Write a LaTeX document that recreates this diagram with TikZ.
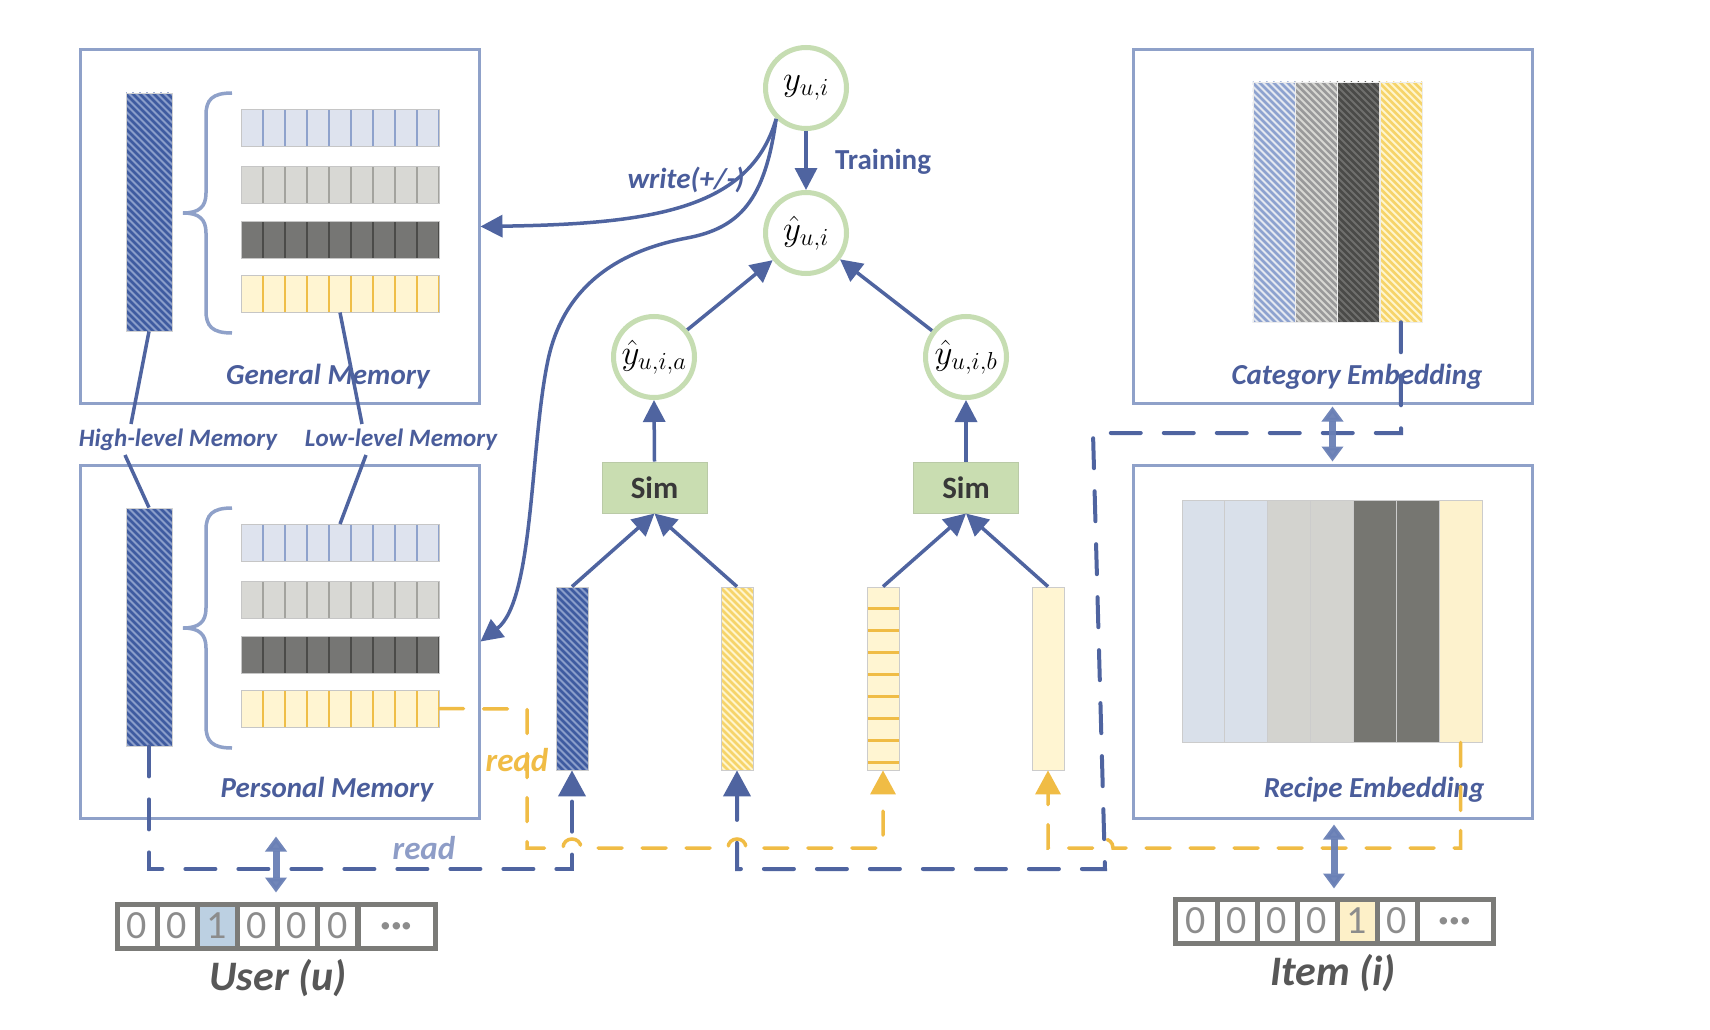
\documentclass[tikz,border=0pt]{standalone}
\usepackage{fix-cm}
\usepackage{fontspec}
\setmainfont{Carlito}
\usetikzlibrary{arrows.meta}
\definecolor{boxc}{HTML}{8FA1C9}
\definecolor{tblue}{HTML}{4A5D9B}
\definecolor{ablue}{HTML}{4F64A0}
\definecolor{cgreen}{HTML}{C6DDB2}
\definecolor{simf}{HTML}{C9DDB1}
\definecolor{yel}{HTML}{F0BC45}
\definecolor{dblc}{HTML}{6A80B6}
\definecolor{rblue}{HTML}{8E9DC7}
\definecolor{vgray}{HTML}{7B7B78}
\definecolor{dgray}{HTML}{8C8C8C}
\definecolor{ugray}{HTML}{575757}
\definecolor{rowAf}{HTML}{DEE3EE}\definecolor{rowAd}{HTML}{8EA2CC}
\definecolor{rowBf}{HTML}{D8D8D4}\definecolor{rowBd}{HTML}{A3A39E}
\definecolor{rowCf}{HTML}{767674}\definecolor{rowCd}{HTML}{4B4B49}
\definecolor{rowDf}{HTML}{FFF5D2}\definecolor{rowDd}{HTML}{EFBE48}
\definecolor{hbBg}{HTML}{8A9DCA}\definecolor{hbFg}{HTML}{3F5BA0}
\definecolor{hyBg}{HTML}{FFF5CC}\definecolor{hyFg}{HTML}{F6D46A}
\definecolor{hlBg}{HTML}{E4E8F0}\definecolor{hlFg}{HTML}{8DA2CF}
\definecolor{hgBg}{HTML}{D7D7D3}\definecolor{hgFg}{HTML}{99999A}
\definecolor{hdBg}{HTML}{6F6F6D}\definecolor{hdFg}{HTML}{4A4A48}
\definecolor{recA}{HTML}{D9E0EA}\definecolor{recB}{HTML}{D3D3CF}
\definecolor{recC}{HTML}{767671}\definecolor{recD}{HTML}{FDF2CD}
\definecolor{ufill}{HTML}{BCD0E2}\definecolor{ifill}{HTML}{FDF0C8}
\tikzset{
  membox/.style={draw=boxc, line width=3pt, minimum width=399pt, minimum height=353pt, inner sep=0pt},
  ttl/.style={font=\fontsize{29}{33}\selectfont\bfseries\itshape, text=tblue, inner sep=0pt},
  lbl/.style={font=\fontsize{25}{29}\selectfont\bfseries\itshape, text=tblue, inner sep=0pt},
  hatch/.style 2 args={fill=#1, path picture={\foreach \k in {-260,-253,...,60}{\draw[#2,line width=2.6pt] ([xshift=\k pt]path picture bounding box.north west) -- ++(270,270);}}},
  hbar/.style={draw=gray!35, line width=0.8pt, inner sep=0pt, minimum width=46pt, minimum height=238pt},
  mbar/.style={draw=gray!40, line width=0.8pt, inner sep=0pt, minimum width=32pt, minimum height=183pt},
  memrow/.style 2 args={fill=#1, draw=gray!45, line width=1pt, minimum width=198pt, minimum height=37pt, inner sep=0pt,
    path picture={\foreach \i in {1,...,9}{\draw[#2, line width=2.2pt] ([xshift=\i*22pt]path picture bounding box.north west) -- ([xshift=\i*22pt]path picture bounding box.south west);}}},
  brc/.style={draw=boxc, line width=3.5pt},
  circ/.style={circle, draw=cgreen, line width=5pt, minimum size=81pt, inner sep=0pt, font=\fontsize{35}{40}\selectfont},
  simbox/.style={fill=simf, draw=simf!80!gray, line width=1pt, minimum width=105pt, minimum height=51pt, inner sep=0pt, font=\fontsize{31}{34}\selectfont\bfseries, text=black!78},
  arr/.style={draw=ablue, line width=3.5pt, -{Triangle[length=22pt,width=22pt]}},
  lvl/.style={draw=ablue, line width=3.5pt},
  bdash/.style={draw=ablue, line width=4pt, dash pattern=on 30pt off 23pt, line cap=round},
  ydash/.style={draw=yel, line width=3.5pt, dash pattern=on 24pt off 20pt, line cap=round},
  btip/.style={-{Triangle[length=26pt,width=27pt]}},
  ytip/.style={-{Triangle[length=24pt,width=25pt]}},
  dbl/.style={draw=dblc, line width=7pt, {Triangle[length=15pt,width=21pt]}-{Triangle[length=15pt,width=21pt]}, opacity=0.95},
  vcell/.style={draw=vgray, line width=5pt, minimum width=40pt, minimum height=44pt, inner sep=0pt, font=\fontsize{40}{44}\selectfont, text=dgray},
  dots/.style={font=\fontsize{40}{44}\selectfont\bfseries},
  vlab/.style={font=\fontsize{42}{46}\selectfont\bfseries\itshape, text=ugray, inner sep=0pt},
  rlab/.style={font=\fontsize{33}{36}\selectfont\bfseries\itshape, inner sep=0pt},
  rstripe/.style={draw=gray!40, line width=0.8pt, minimum width=42.857pt, minimum height=242pt, inner sep=0pt},
  cstripe/.style={draw=gray!15, line width=0.5pt, minimum width=42.25pt, minimum height=240pt, inner sep=0pt},
  mybrace/.pic={\draw[brc] (232,93) .. controls (212,93) and (206,100) .. (206,115) -- (206,193) .. controls (206,207) and (199,213) .. (183,213) .. controls (199,213) and (206,219) .. (206,233) -- (206,311) .. controls (206,326) and (212,333) .. (232,333);}
}
\begin{document}
\begin{tikzpicture}[x=1pt,y=-1pt]
\fill[white] (0,0) rectangle (1710,1030);
\useasboundingbox (0,0) rectangle (1710,1030);

% ---------- boxes ----------
\node[membox] (gm) at (279.5,226.5) {};
\node[membox] (pm) at (279.5,641.5) {};
\node[membox] (cat) at (1332.5,226.5) {};
\node[membox] (rec) at (1332.5,641.5) {};

% ---------- memories ----------
\node[hbar, hatch={hbBg}{hbFg}] (gbar) at (149,212) {};
\node[hbar, hatch={hbBg}{hbFg}] (pbar) at (149,627) {};
\pic at (0,0) {mybrace};
\pic at (0,415) {mybrace};
\node[memrow={rowAf}{rowAd}] (gr1) at (340,128) {};
\node[memrow={rowBf}{rowBd}] (gr2) at (340,185) {};
\node[memrow={rowCf}{rowCd}] (gr3) at (340,239.5) {};
\node[memrow={rowDf}{rowDd}] (gr4) at (340,293.5) {};
\node[memrow={rowAf}{rowAd}] (pr1) at (340,543) {};
\node[memrow={rowBf}{rowBd}] (pr2) at (340,600) {};
\node[memrow={rowCf}{rowCd}] (pr3) at (340,654.5) {};
\node[memrow={rowDf}{rowDd}] (pr4) at (340,708.5) {};
\node[ttl] (gmt) at (328,377) {General Memory};
\node[ttl] (pmt) at (327,790) {Personal Memory};

% level labels and connectors
\node[lbl] (hl) at (178,440) {High-level Memory};
\node[lbl] (ll) at (401,440) {Low-level Memory};
\coordinate (hlt) at (131,424); \coordinate (hlb) at (125,455);
\coordinate (llt) at (362,424); \coordinate (llb) at (366,455);
\draw[lvl] (gbar.south) -- (hlt);
\draw[lvl] (hlb) -- (pbar.north);
\draw[lvl] (gr4.south) -- (llt);
\draw[lvl] (llb) -- (pr1.north);

% ---------- category embedding ----------
\node[cstripe, hatch={hlBg}{hlFg}] (cs1) at (1274.1,202) {};
\node[cstripe, hatch={hgBg}{hgFg}] (cs2) at (1316.4,202) {};
\node[cstripe, hatch={hdBg}{hdFg}] (cs3) at (1358.6,202) {};
\node[cstripe, hatch={hyBg}{hyFg}] (cs4) at (1400.9,202) {};
\node[ttl] (catt) at (1357,377) {Category Embedding};

% ---------- recipe embedding ----------
\node[rstripe, fill=recA] (rs1) at (1203.4,621) {};
\node[rstripe, fill=recA] (rs2) at (1246.3,621) {};
\node[rstripe, fill=recB] (rs3) at (1289.1,621) {};
\node[rstripe, fill=recB] (rs4) at (1332.0,621) {};
\node[rstripe, fill=recC] (rs5) at (1374.9,621) {};
\node[rstripe, fill=recC] (rs6) at (1417.7,621) {};
\node[rstripe, fill=recD] (rs7) at (1460.6,621) {};
\node[ttl] (rect) at (1374,790) {Recipe Embedding};

% ---------- middle ----------
\node[circ] (y) at (806,88) {$y_{u,i}$};
\node[circ] (yh) at (806,233) {$\hat{y}_{u,i}$};
\node[circ] (ya) at (654,357) {$\hat{y}_{u,i,a}$};
\node[circ] (yb) at (966,357) {$\hat{y}_{u,i,b}$};
\node[simbox] (sa) at (654.5,487.5) {Sim};
\node[simbox] (sb) at (966,487.5) {Sim};
\node[mbar, hatch={hbBg}{hbFg}] (b1) at (572,678.5) {};
\node[mbar, hatch={hyBg}{hyFg}] (b2) at (737,678.5) {};
\node[mbar, fill=rowDf, path picture={\foreach \j in {0,...,7}{\draw[yel, line width=3pt] ([yshift={-(21+22*\j)*1pt}]path picture bounding box.north west) -- ([yshift={-(21+22*\j)*1pt}]path picture bounding box.north east);}}] (b3) at (883,678.5) {};
\node[mbar, fill=rowDf] (b4) at (1048,678.5) {};

\node[font=\fontsize{29}{33}\selectfont\bfseries, text=tblue, inner sep=0pt] (tr) at (883,162) {Training};
\node[ttl] (wl) at (686,180) {write(+/-)};

\draw[arr] (y) -- (yh);
\draw[arr] (ya) -- (yh);
\draw[arr] (yb) -- (yh);
\draw[arr] (sa.north) -- (ya.south);
\draw[arr] (sb.north) -- (yb.south);
\draw[arr] (b1.north) -- (sa.south);
\draw[arr] (b2.north) -- (sa.south);
\draw[arr] (b3.north) -- (sb.south);
\draw[arr] (b4.north) -- (sb.south);

% write curves
\draw[arr] (y.226) .. controls (750,210) and (650,224) .. (gm.east);
\draw[arr] (y.226) .. controls (765,200) and (740,228) .. (687,238)
  .. controls (634,248) and (566,275) .. (548,360)
  .. controls (530,445) and (534,600) .. (pm.east);

% ---------- vectors ----------
\node[vcell, minimum width=318pt] (uvec) at (276,926) {};
\node[vcell] (u1) at (137,926) {0};
\node[vcell] (u2) at (177,926) {0};
\node[vcell, fill=ufill] (u3) at (217,926) {1};
\node[vcell] (u4) at (257,926) {0};
\node[vcell] (u5) at (297,926) {0};
\node[vcell] (u6) at (337.5,926) {0};
\node[vcell, minimum width=77pt, dots] (u7) at (396.5,926) {\smash{\raisebox{-0.28em}{···}}};
\node[vlab] (ul) at (278,978) {User (u)};

\node[vcell, minimum width=318pt] (ivec) at (1334,921) {};
\node[vcell, minimum width=42pt] (i1) at (1196,921) {0};
\node[vcell] (i2) at (1237,921) {0};
\node[vcell] (i3) at (1277,921) {0};
\node[vcell] (i4) at (1317,921) {0};
\node[vcell, fill=ifill] (i5) at (1357,921) {1};
\node[vcell] (i6) at (1397,921) {0};
\node[vcell, minimum width=76pt, dots] (i7) at (1455,921) {\smash{\raisebox{-0.28em}{···}}};
\node[vlab] (il) at (1333,973) {Item (i)};

% ---------- dashed read paths ----------
\coordinate (p1) at (149,869); \coordinate (p2) at (572,869);
\draw[bdash, btip] (pbar.south) -- (p1) -- (p2) -- (b1.south);
\coordinate (q1) at (1401,433); \coordinate (q2) at (1093,433);
\coordinate (q3) at (1105,869); \coordinate (q4) at (737,869);
\draw[bdash, btip] (cs4.south) -- (q1) -- (q2) -- (q3) -- (q4) -- (b2.south);

\coordinate (r1) at (527,709); \coordinate (r2) at (527,848);
\draw[ydash, ytip] (pr4.east) -- (r1) -- (r2) -- (563,848) .. controls (563,836) and (581,836) .. (581,848)
  -- (728,848) .. controls (728,836) and (746,836) .. (746,848) -- (b3.south |- r2) -- (b3.south);
\draw[ydash, ytip] (rs7.south) -- (rs7.south |- r2) -- (1113,848) .. controls (1113,836) and (1095,836) .. (1095,848)
  -- (b4.south |- r2) -- (b4.south);

\node[rlab, text=yel] (yread) at (517,760) {read};
\node[rlab, text=rblue] (bread) at (424,848) {read};

% ---------- double arrows ----------
\draw[dbl, shorten <=2pt, shorten >=2pt] (cat.south) -- (rec.north);
\draw[dbl, shorten <=5pt, shorten >=8pt] (rec.south -| ivec.north) -- (ivec.north);
\draw[dbl, shorten <=17pt, shorten >=9pt] (pm.south -| uvec.north) -- (uvec.north);
\end{tikzpicture}
\end{document}
